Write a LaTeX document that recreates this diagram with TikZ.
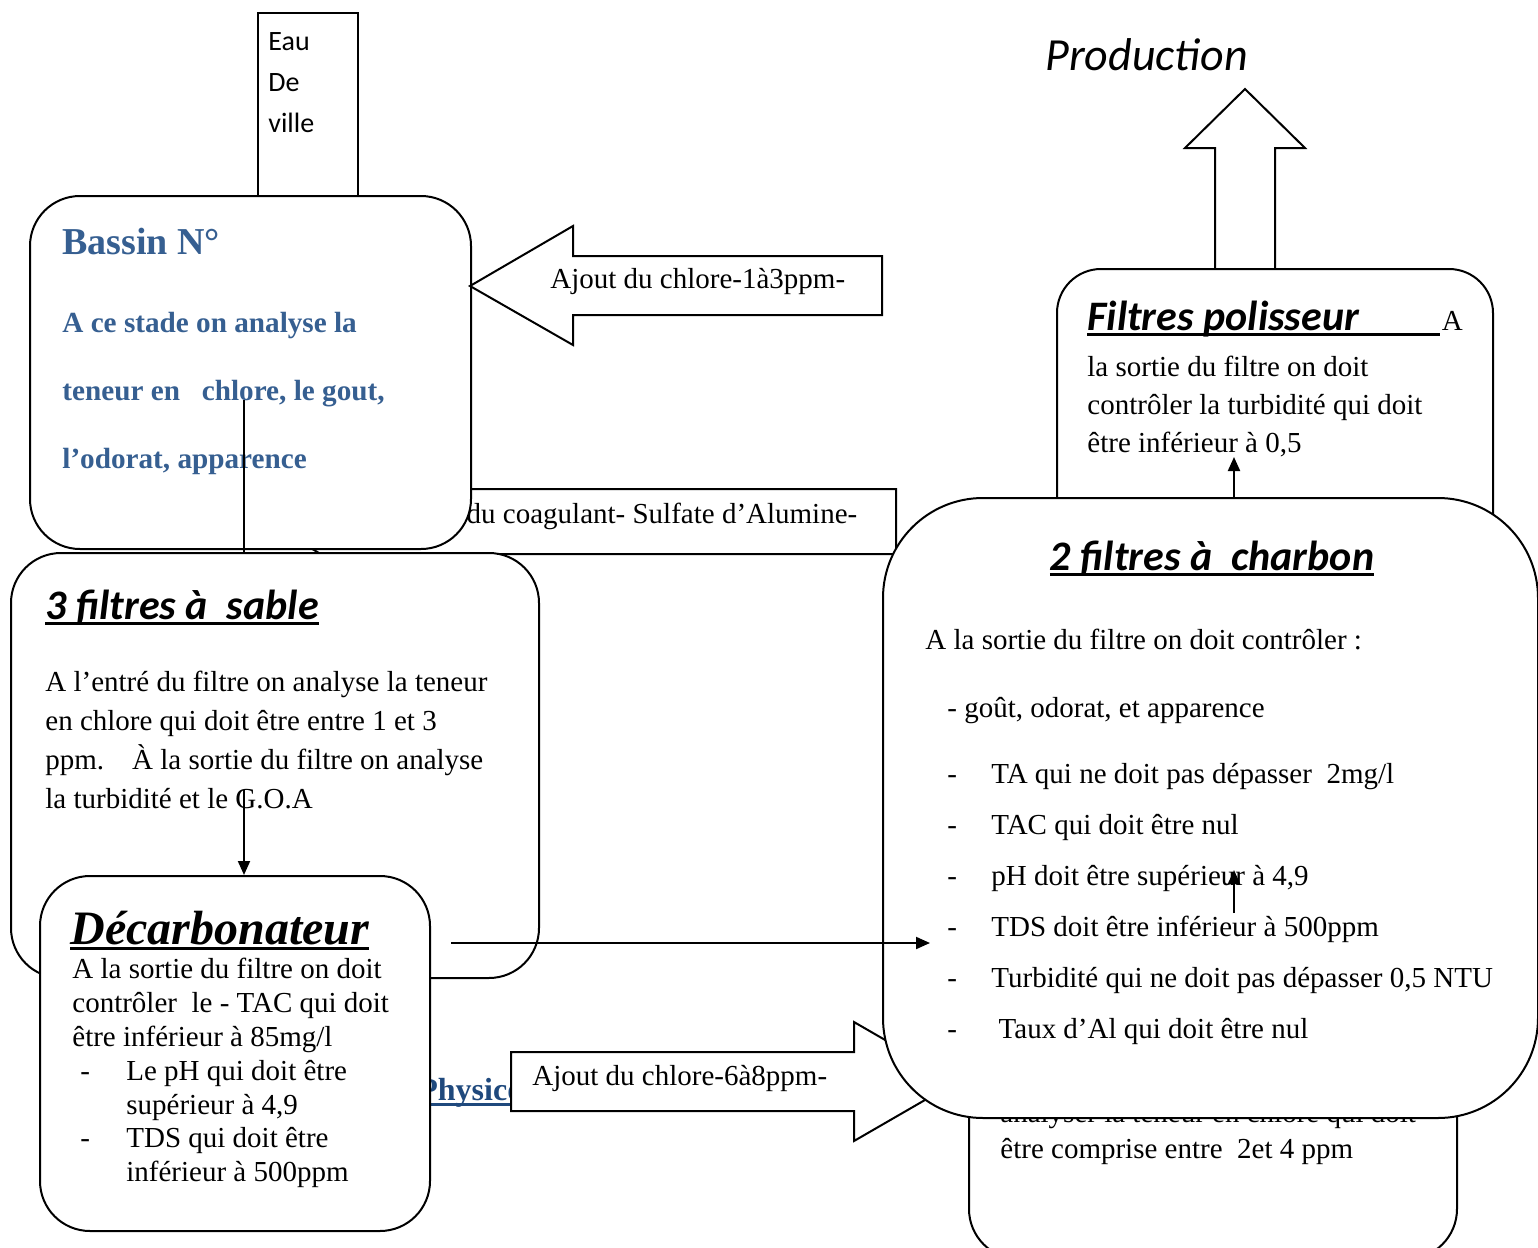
\documentclass[tikz,border=0pt]{standalone}
\usepackage{fontspec}
\setmainfont{Liberation Serif}
\newfontfamily\calibri{Carlito}
\usetikzlibrary{positioning}
\usetikzlibrary{calc}
\usetikzlibrary{arrows.meta}

\definecolor{bassinblue}{RGB}{54,95,145}
\definecolor{physblue}{RGB}{31,73,125}

% thick underline as Word draws it
\newcommand{\ulbar}[1]{\setbox0=\hbox{#1}\rlap{\rule[-3pt]{\wd0}{1.5pt}}\box0}

\begin{document}
\begin{tikzpicture} [x=0.5pt, y=-0.5pt]
    % styles of the boxes, texts and arrows
    % (multi-line texts sit on the baseline of their last line)
    \tikzstyle{box} = [draw=black, line width=1pt, fill=white, rounded corners=25pt, anchor=north west, inner sep=0pt]
    \tikzstyle{fat} = [draw=black, line width=1pt, fill=white]
    \tikzstyle{body} = [inner sep=0pt, anchor=base west, align=left, font=\fontsize{14.5}{19.5}\selectfont]
    \tikzstyle{title} = [inner sep=0pt, anchor=base west, font=\calibri\bfseries\itshape\fontsize{21}{24}\selectfont]
    \tikzstyle{flow} = [line width=1pt, -{Triangle[length=7pt, width=6pt]}]

    \useasboundingbox (0,0) rectangle (1538,1248);

    % box of the chlore test, mostly hidden
    \node (chlorebox) [box] at (968,1000) [minimum width=244pt, minimum height=129pt] {};
    \node (chloretxt) [body, font=\fontsize{14.5}{18}\selectfont] at (1000,1158)
        {analyser la teneur en chlore qui doit\\ être comprise entre\ \ 2et 4 ppm};
    \node (physic) [inner sep=0pt, anchor=base west, text=physblue, font=\bfseries\fontsize{16}{18}\selectfont]
        at (418,1100) {\ulbar{Physico}};

    % eau de ville
    \node (eau) [draw=black, line width=1pt, fill=white, anchor=north west, inner sep=0pt,
        minimum width=50pt, minimum height=91.5pt] at (257,12) {};
    \node (eautxt) [body, font=\calibri\fontsize{14}{20.5}\selectfont] at (268,132) {Eau\\De\\ville};

    % coagulant arrow
    \draw[fat] (267,521.5) -- (370,459) -- (370,489) -- (896,489) -- (896,554)
        -- (370,554) -- (370,584) -- cycle;
    \node (coagtxt) [body] at (393,523) {Ajout du coagulant- Sulfate d’Alumine-};

    % production
    \draw[fat] (1215,268) -- (1215,148) -- (1185,148) -- (1245,89) -- (1305,148)
        -- (1275,148) -- (1275,268);
    \node (prod) [inner sep=0pt, anchor=base west, font=\calibri\itshape\fontsize{23}{26}\selectfont]
        at (1045,70) {Production};

    % filtres polisseur
    \node (polis) [box, rounded corners=22pt, minimum width=218pt, minimum height=176pt] at (1056,268) {};
    \node (polistitle) [title] at (1087,330)
        {\ulbar{Filtres polisseur\hspace{40.5pt}}\hspace{1pt}{\rmfamily\mdseries\upshape\fontsize{14.5}{19.5}\selectfont A}};
    \node (polistxt) [body, font=\fontsize{14.5}{19}\selectfont] at (1087,452)
        {la sortie du filtre on doit\\contrôler la turbidité qui doit\\être inférieur à 0,5};

    % bassin
    \node (bassin) [box, minimum width=220.5pt, minimum height=176.5pt] at (29,195) {};
    \node (bassintitle) [inner sep=0pt, anchor=base west, text=bassinblue, font=\bfseries\fontsize{19}{22}\selectfont]
        at (62,254) {Bassin N°};
    \node (bassintxt) [body, text=bassinblue, font=\bfseries\fontsize{14.6}{34}\selectfont] at (62,468)
        {A ce stade on analyse la\\teneur en\ \ \ chlore, le gout,\\l’odorat, apparence};

    % chlore 1 a 3 ppm
    \draw[fat] (470,286) -- (573,226) -- (573,256) -- (882,256) -- (882,315)
        -- (573,315) -- (573,345) -- cycle;
    \node (chl13) [body] at (550,288) {Ajout du chlore-1à3ppm-};

    % filtres a sable
    \node (sable) [box, minimum width=264pt, minimum height=212.5pt] at (10,552) {};
    \node (sabletitle) [title] at (45,619) {\ulbar{3 filtres à\ \ sable}};
    \node (sabletxt) [body] at (45,808)
        {A l’entré du filtre on analyse la teneur\\en chlore qui doit être entre 1 et 3\\
         ppm.\hspace{14pt}À la sortie du filtre on analyse\\la turbidité et le G.O.A};

    \coordinate (bassinout) at (244,400);
    \draw[line width=1pt] (bassinout) -- (bassinout |- sable.north);

    % decarbonateur
    \node (decarb) [box, minimum width=195pt, minimum height=177.5pt] at (39,875) {};
    \node (decarbtitle) [inner sep=0pt, anchor=base west, font=\bfseries\itshape\fontsize{24}{26}\selectfont]
        at (70,944) {\ulbar{Décarbonateur}};
    \node (decarbtxt) [body, font=\fontsize{14.5}{17}\selectfont] at (72,1046)
        {A la sortie du filtre on doit\\contrôler\ \ le - TAC qui doit\\être inférieur à 85mg/l};
    \foreach \txt [count=\i] in {{Le pH qui doit être\\supérieur à 4,9}, {TDS qui doit être\\inférieur à 500ppm}} {
        \node (ddash\i) [body] at (80, {1080 + 67*(\i-1)}) {-};
        \node (ditem\i) [body, font=\fontsize{14.5}{17}\selectfont] at (126, {1114 + 67*(\i-1)}) {\txt};
    }

    \coordinate (sableout) at (244,790);
    \draw[flow] (sableout) -- (sableout |- decarb.north);

    % chlore 6 a 8 ppm
    \draw[fat] (511,1052) -- (854,1052) -- (854,1022) -- (957,1081.5) -- (854,1141)
        -- (854,1111) -- (511,1111) -- cycle;
    \node (chl68) [body] at (532,1085) {Ajout du chlore-6à8ppm-};

    % filtres a charbon
    \node (charbon) [box, rounded corners=50pt, minimum width=327.5pt, minimum height=310pt] at (882,497) {};
    \node (charbontitle) [title, anchor=base] at (1212,570) {\ulbar{2 filtres à\ \ charbon}};
    \node (charbontxt) [body] at (925,649) {A la sortie du filtre on doit contrôler :};
    \node (charbongoa) [body] at (947,717) {- goût, odorat, et apparence};
    \foreach \txt [count=\i] in {{TA qui ne doit pas dépasser\ \ 2mg/l}, {TAC qui doit être nul},
        {pH doit être supérieur à 4,9}, {TDS doit être inférieur à 500ppm},
        {Turbidité qui ne doit pas dépasser 0,5 NTU}, {\ Taux d’Al qui doit être nul}} {
        \node (cdash\i) [body] at (947, {783 + 51*(\i-1)}) {-};
        \node (citem\i) [body] at (991, {783 + 51*(\i-1)}) {\txt};
    }

    % connectors on top
    \coordinate (decarbout) at (451,943);
    \coordinate (charbonin) at (930,943);
    \draw[flow] (decarbout) -- (charbonin);
    \coordinate (phstart) at (1234,913);
    \coordinate (phend) at (1234,870);
    \draw[flow] (phstart) -- (phend);
    \coordinate (polisin) at (1234,457);
    \draw[flow] (polisin |- charbon.north) -- (polisin);
\end{tikzpicture}
\end{document}
